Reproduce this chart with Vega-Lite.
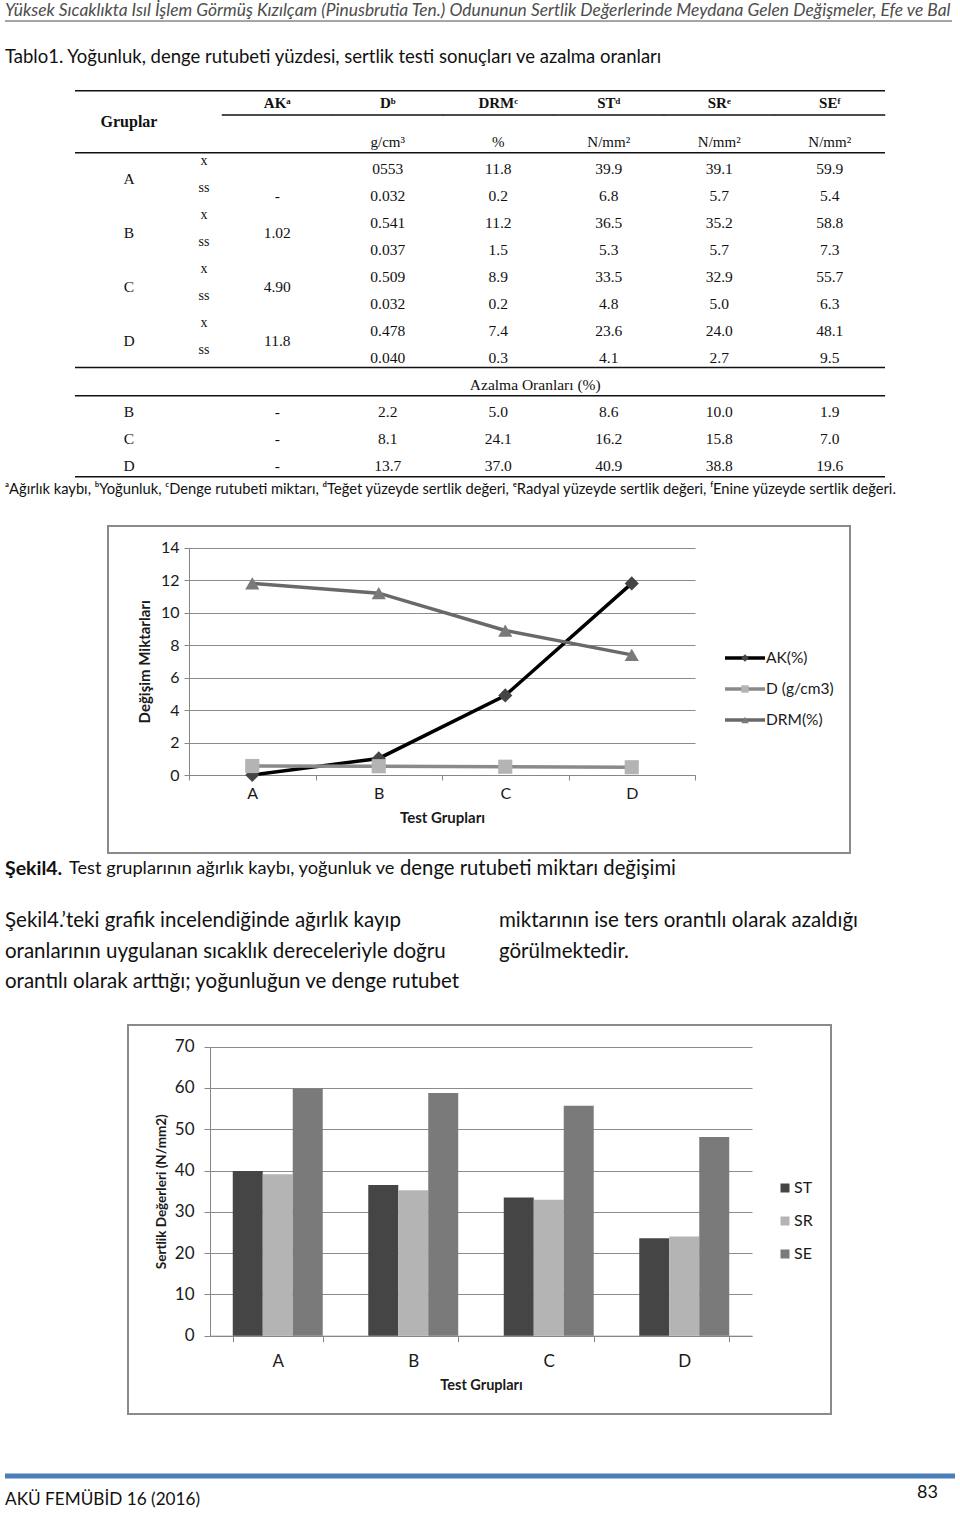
{
  "$schema": "https://vega.github.io/schema/vega-lite/v6.json",
  "padding": 0,
  "background": "white",
  "spacing": 0,
  "bounds": "flush",
  "config": {
    "view": {"stroke": null},
    "font": "Lato",
    "text": {"font": "Lato", "baseline": "middle", "color": "#111111"},
    "axis": {
      "labelFont": "Lato", "titleFont": "Lato",
      "labelColor": "#1a1a1a", "titleColor": "#1a1a1a",
      "domainColor": "#868686", "tickColor": "#868686", "gridColor": "#8c8c8c",
      "gridOpacity": 1, "domainWidth": 1, "tickWidth": 1, "gridWidth": 1,
      "labelOverlap": false
    }
  },
  "vconcat": [
    {
      "width": 960, "height": 75,
      "layer": [
        {
          "data": {"values": [{"line": "header", "t": "Yüksek Sıcaklıkta Isıl İşlem Görmüş Kızılçam (Pinusbrutia Ten.) Odununun Sertlik Değerlerinde Meydana Gelen Değişmeler, Efe ve Bal"}]},
          "mark": {"type": "text", "align": "left", "baseline": "alphabetic", "dy": -5, "font": "Lato", "fontStyle": "italic", "fontSize": 17.4, "color": "#4d4d4d"},
          "encoding": {
            "x": {"datum": "left", "type": "nominal", "scale": {"type": "point", "domain": ["left", "right"], "range": [5, 952], "padding": 0}, "axis": null},
            "y": {"field": "line", "type": "nominal", "scale": {"type": "point", "domain": ["header", "tablo"], "range": [21, 68], "padding": 0}, "axis": null},
            "text": {"field": "t"}
          }
        },
        {
          "data": {"values": [{"line": "tablo", "t": "Tablo1. Yoğunluk, denge rutubeti yüzdesi, sertlik testi sonuçları ve azalma oranları"}]},
          "mark": {"type": "text", "align": "left", "baseline": "alphabetic", "dy": -5, "font": "Lato", "fontSize": 18.5, "color": "#111111"},
          "encoding": {
            "x": {"datum": "left", "type": "nominal", "scale": {"type": "point", "domain": ["left", "right"], "range": [5, 952], "padding": 0}, "axis": null},
            "y": {"field": "line", "type": "nominal", "scale": {"type": "point", "domain": ["header", "tablo"], "range": [21, 68], "padding": 0}, "axis": null},
            "text": {"field": "t"}
          }
        },
        {
          "data": {"values": [{"line": "header"}]},
          "mark": {"type": "rule", "color": "#4d4d4d", "strokeWidth": 1},
          "encoding": {
            "x": {"datum": "left", "type": "nominal", "scale": {"type": "point", "domain": ["left", "right"], "range": [5, 952], "padding": 0}, "axis": null},
            "x2": {"datum": "right"},
            "y": {"field": "line", "type": "nominal", "scale": {"type": "point", "domain": ["header", "tablo"], "range": [21, 68], "padding": 0}, "axis": null}
          }
        }
      ]
    },
    {
      "width": 960, "height": 405,
      "resolve": {"scale": {"x": "independent"}},
      "layer": [
        {
          "encoding": {
            "x": {"field": "col", "type": "nominal", "scale": {"type": "point", "domain": ["grp", "xs"], "range": [129, 204], "padding": 0}, "axis": null},
            "y": {"field": "row", "type": "quantitative", "scale": {"domain": [0, 12], "range": [67, 391], "nice": false, "zero": false}, "axis": null},
            "text": {"field": "t", "type": "nominal"}
          },
          "layer": [
            {
              "data": {"values": [{"col": "grp", "row": -1, "t": "Gruplar"}]},
              "mark": {"type": "text", "font": "Liberation Serif", "fontSize": 16, "fontWeight": "bold", "dy": 7, "color": "#111111"}
            },
            {
              "data": {"values": [{"col": "grp", "row": 1, "t": "A"}, {"col": "grp", "row": 3, "t": "B"}, {"col": "grp", "row": 5, "t": "C"}, {"col": "grp", "row": 7, "t": "D"}]},
              "mark": {"type": "text", "font": "Liberation Serif", "fontSize": 15.5, "dy": 10, "color": "#111111"}
            },
            {
              "data": {"values": [{"col": "grp", "row": 10, "t": "B"}, {"col": "grp", "row": 11, "t": "C"}, {"col": "grp", "row": 12, "t": "D"}]},
              "mark": {"type": "text", "font": "Liberation Serif", "fontSize": 15.5, "color": "#111111"}
            },
            {
              "data": {"values": [
                {"col": "xs", "row": 1, "t": "x"}, {"col": "xs", "row": 2, "t": "ss"},
                {"col": "xs", "row": 3, "t": "x"}, {"col": "xs", "row": 4, "t": "ss"},
                {"col": "xs", "row": 5, "t": "x"}, {"col": "xs", "row": 6, "t": "ss"},
                {"col": "xs", "row": 7, "t": "x"}, {"col": "xs", "row": 8, "t": "ss"}
              ]},
              "mark": {"type": "text", "font": "Liberation Serif", "fontSize": 14, "dy": -8, "color": "#111111"}
            }
          ]
        },
        {
          "encoding": {
            "x": {"field": "col", "type": "nominal", "scale": {"type": "band", "domain": ["AK", "D", "DRM", "ST", "SR", "SE"], "range": [222, 885], "paddingInner": 0, "paddingOuter": 0}, "axis": null},
            "y": {"field": "row", "type": "quantitative", "scale": {"domain": [0, 12], "range": [67, 391], "nice": false, "zero": false}, "axis": null}
          },
          "layer": [
            {
              "data": {"values": [
                {"col": "AK", "row": -1, "t": "AKᵃ"}, {"col": "D", "row": -1, "t": "Dᵇ"},
                {"col": "DRM", "row": -1, "t": "DRMᶜ"}, {"col": "ST", "row": -1, "t": "STᵈ"},
                {"col": "SR", "row": -1, "t": "SRᵉ"}, {"col": "SE", "row": -1, "t": "SEᶠ"}
              ]},
              "mark": {"type": "text", "font": "Liberation Serif", "fontSize": 15, "fontWeight": "bold", "dy": -12, "color": "#111111"},
              "encoding": {"text": {"field": "t", "type": "nominal"}}
            },
            {
              "data": {"values": [
                {"col": "AK", "row": -1}, {"col": "D", "row": -1}, {"col": "DRM", "row": -1},
                {"col": "ST", "row": -1}, {"col": "SR", "row": -1}, {"col": "SE", "row": -1}
              ]},
              "mark": {"type": "tick", "orient": "horizontal", "size": 111, "thickness": 1.5, "color": "#111111", "opacity": 1}
            },
            {
              "data": {"values": [
                {"col": "D", "row": 0, "t": "g/cm³"}, {"col": "DRM", "row": 0, "t": "%"},
                {"col": "ST", "row": 0, "t": "N/mm²"}, {"col": "SR", "row": 0, "t": "N/mm²"}, {"col": "SE", "row": 0, "t": "N/mm²"}
              ]},
              "mark": {"type": "text", "font": "Liberation Serif", "fontSize": 15, "color": "#111111"},
              "encoding": {"text": {"field": "t", "type": "nominal"}}
            },
            {
              "data": {"values": [
                {"col": "D", "row": 1, "t": "0553"}, {"col": "DRM", "row": 1, "t": "11.8"}, {"col": "ST", "row": 1, "t": "39.9"}, {"col": "SR", "row": 1, "t": "39.1"}, {"col": "SE", "row": 1, "t": "59.9"},
                {"col": "AK", "row": 2, "t": "-"},
                {"col": "D", "row": 2, "t": "0.032"}, {"col": "DRM", "row": 2, "t": "0.2"}, {"col": "ST", "row": 2, "t": "6.8"}, {"col": "SR", "row": 2, "t": "5.7"}, {"col": "SE", "row": 2, "t": "5.4"},
                {"col": "D", "row": 3, "t": "0.541"}, {"col": "DRM", "row": 3, "t": "11.2"}, {"col": "ST", "row": 3, "t": "36.5"}, {"col": "SR", "row": 3, "t": "35.2"}, {"col": "SE", "row": 3, "t": "58.8"},
                {"col": "D", "row": 4, "t": "0.037"}, {"col": "DRM", "row": 4, "t": "1.5"}, {"col": "ST", "row": 4, "t": "5.3"}, {"col": "SR", "row": 4, "t": "5.7"}, {"col": "SE", "row": 4, "t": "7.3"},
                {"col": "D", "row": 5, "t": "0.509"}, {"col": "DRM", "row": 5, "t": "8.9"}, {"col": "ST", "row": 5, "t": "33.5"}, {"col": "SR", "row": 5, "t": "32.9"}, {"col": "SE", "row": 5, "t": "55.7"},
                {"col": "D", "row": 6, "t": "0.032"}, {"col": "DRM", "row": 6, "t": "0.2"}, {"col": "ST", "row": 6, "t": "4.8"}, {"col": "SR", "row": 6, "t": "5.0"}, {"col": "SE", "row": 6, "t": "6.3"},
                {"col": "D", "row": 7, "t": "0.478"}, {"col": "DRM", "row": 7, "t": "7.4"}, {"col": "ST", "row": 7, "t": "23.6"}, {"col": "SR", "row": 7, "t": "24.0"}, {"col": "SE", "row": 7, "t": "48.1"},
                {"col": "D", "row": 8, "t": "0.040"}, {"col": "DRM", "row": 8, "t": "0.3"}, {"col": "ST", "row": 8, "t": "4.1"}, {"col": "SR", "row": 8, "t": "2.7"}, {"col": "SE", "row": 8, "t": "9.5"},
                {"col": "AK", "row": 10, "t": "-"}, {"col": "D", "row": 10, "t": "2.2"}, {"col": "DRM", "row": 10, "t": "5.0"}, {"col": "ST", "row": 10, "t": "8.6"}, {"col": "SR", "row": 10, "t": "10.0"}, {"col": "SE", "row": 10, "t": "1.9"},
                {"col": "AK", "row": 11, "t": "-"}, {"col": "D", "row": 11, "t": "8.1"}, {"col": "DRM", "row": 11, "t": "24.1"}, {"col": "ST", "row": 11, "t": "16.2"}, {"col": "SR", "row": 11, "t": "15.8"}, {"col": "SE", "row": 11, "t": "7.0"},
                {"col": "AK", "row": 12, "t": "-"}, {"col": "D", "row": 12, "t": "13.7"}, {"col": "DRM", "row": 12, "t": "37.0"}, {"col": "ST", "row": 12, "t": "40.9"}, {"col": "SR", "row": 12, "t": "38.8"}, {"col": "SE", "row": 12, "t": "19.6"}
              ]},
              "mark": {"type": "text", "font": "Liberation Serif", "fontSize": 15.5, "color": "#111111"},
              "encoding": {"text": {"field": "t", "type": "nominal"}}
            },
            {
              "data": {"values": [{"col": "AK", "row": 3, "t": "1.02"}, {"col": "AK", "row": 5, "t": "4.90"}, {"col": "AK", "row": 7, "t": "11.8"}]},
              "mark": {"type": "text", "font": "Liberation Serif", "fontSize": 15.5, "dy": 10, "color": "#111111"},
              "encoding": {"text": {"field": "t", "type": "nominal"}}
            },
            {
              "data": {"values": [{"col": "DRM", "row": 9, "t": "Azalma Oranları (%)"}]},
              "mark": {"type": "text", "font": "Liberation Serif", "fontSize": 15.5, "dx": 37, "color": "#111111"},
              "encoding": {"text": {"field": "t", "type": "nominal"}}
            }
          ]
        },
        {
          "data": {"values": [{"row": -1.9}, {"row": 0.4}, {"row": 8.35}, {"row": 9.4}, {"row": 12.4}]},
          "mark": {"type": "rule", "color": "#111111", "strokeWidth": 1.5},
          "encoding": {
            "x": {"datum": "start", "type": "nominal", "scale": {"type": "point", "domain": ["start", "end"], "range": [75, 885], "padding": 0}, "axis": null},
            "x2": {"datum": "end"},
            "y": {"field": "row", "type": "quantitative", "scale": {"domain": [0, 12], "range": [67, 391], "nice": false, "zero": false}, "axis": null}
          }
        }
      ]
    },
    {
      "width": 960, "height": 20,
      "data": {"values": [{"t": "ᵃAğırlık kaybı, ᵇYoğunluk, ᶜDenge rutubeti miktarı, ᵈTeğet yüzeyde sertlik değeri, ᵉRadyal yüzeyde sertlik değeri, ᶠEnine yüzeyde sertlik değeri."}]},
      "mark": {"type": "text", "align": "left", "font": "Lato", "fontSize": 14.7, "color": "#111111"},
      "encoding": {
        "x": {"datum": "left", "type": "nominal", "scale": {"type": "point", "domain": ["left", "right"], "range": [5, 955], "padding": 0}, "axis": null},
        "text": {"field": "t"}
      }
    },
    {"width": 960, "height": 26, "data": {"values": [{}]}, "mark": {"type": "text", "text": ""}},
    {
      "width": 960, "height": 327,
      "resolve": {"scale": {"x": "independent", "y": "independent"}},
      "layer": [
        {
          "data": {"values": [{}]},
          "mark": {"type": "rect", "fillOpacity": 0, "stroke": "#8a8a8a", "strokeWidth": 2},
          "encoding": {
            "x": {"datum": "start", "type": "nominal", "scale": {"type": "point", "domain": ["start", "end"], "range": [108, 850], "padding": 0}, "axis": null},
            "x2": {"datum": "end"}
          }
        },
        {
          "data": {"values": [
            {"group": "A", "series": "AK(%)", "value": 0}, {"group": "B", "series": "AK(%)", "value": 1.02},
            {"group": "C", "series": "AK(%)", "value": 4.90}, {"group": "D", "series": "AK(%)", "value": 11.8},
            {"group": "A", "series": "D (g/cm3)", "value": 0.553}, {"group": "B", "series": "D (g/cm3)", "value": 0.541},
            {"group": "C", "series": "D (g/cm3)", "value": 0.509}, {"group": "D", "series": "D (g/cm3)", "value": 0.478},
            {"group": "A", "series": "DRM(%)", "value": 11.8}, {"group": "B", "series": "DRM(%)", "value": 11.2},
            {"group": "C", "series": "DRM(%)", "value": 8.9}, {"group": "D", "series": "DRM(%)", "value": 7.4}
          ]},
          "encoding": {
            "x": {"field": "group", "type": "nominal", "scale": {"type": "band", "domain": ["A", "B", "C", "D"], "range": [189, 695], "paddingInner": 0, "paddingOuter": 0},
              "axis": {"title": "Test Grupları", "orient": "bottom", "offset": -78, "labelAngle": 0, "tickBand": "extent", "grid": false, "tickSize": 5, "labelPadding": 5, "labelFontSize": 16, "titleFontSize": 15, "titleFontWeight": "bold", "titlePadding": 9}},
            "y": {"field": "value", "type": "quantitative", "scale": {"domain": [0, 14], "range": [249, 21.7], "nice": false, "zero": false},
              "axis": {"title": "Değişim Miktarları", "orient": "left", "offset": -189, "values": [0, 2, 4, 6, 8, 10, 12, 14], "grid": true, "tickSize": 5, "labelPadding": 5, "labelFontSize": 16, "titleFontSize": 15, "titleFontWeight": "bold", "titlePadding": 8}}
          },
          "layer": [
            {
              "mark": {"type": "line", "strokeWidth": 3.5},
              "encoding": {
                "stroke": {"field": "series", "type": "nominal", "scale": {"domain": ["AK(%)", "D (g/cm3)", "DRM(%)"], "range": ["#000000", "#8a8a8a", "#696969"]}, "legend": null}
              }
            },
            {
              "mark": {"type": "point", "filled": true, "size": 200, "opacity": 1},
              "encoding": {
                "shape": {"field": "series", "type": "nominal", "scale": {"domain": ["AK(%)", "D (g/cm3)", "DRM(%)"], "range": ["diamond", "square", "triangle-up"]}, "legend": null},
                "fill": {"field": "series", "type": "nominal", "scale": {"domain": ["AK(%)", "D (g/cm3)", "DRM(%)"], "range": ["#454545", "#b4b4b4", "#7a7a7a"]}, "legend": null}
              }
            }
          ]
        },
        {
          "data": {"values": [{"series": "AK(%)"}, {"series": "D (g/cm3)"}, {"series": "DRM(%)"}]},
          "encoding": {
            "y": {"field": "series", "type": "nominal", "scale": {"type": "point", "domain": ["AK(%)", "D (g/cm3)", "DRM(%)"], "range": [132, 194], "padding": 0}, "axis": null}
          },
          "layer": [
            {
              "mark": {"type": "rule", "strokeWidth": 3.5},
              "encoding": {
                "x": {"datum": 0, "type": "quantitative", "scale": {"domain": [0, 1], "range": [725, 765], "nice": false, "zero": false}, "axis": null},
                "x2": {"datum": 1},
                "stroke": {"field": "series", "type": "nominal", "scale": {"domain": ["AK(%)", "D (g/cm3)", "DRM(%)"], "range": ["#000000", "#8a8a8a", "#696969"]}, "legend": null}
              }
            },
            {
              "mark": {"type": "point", "filled": true, "size": 55, "opacity": 1},
              "encoding": {
                "x": {"datum": 0.5, "type": "quantitative", "scale": {"domain": [0, 1], "range": [725, 765], "nice": false, "zero": false}, "axis": null},
                "shape": {"field": "series", "type": "nominal", "scale": {"domain": ["AK(%)", "D (g/cm3)", "DRM(%)"], "range": ["diamond", "square", "triangle-up"]}, "legend": null},
                "fill": {"field": "series", "type": "nominal", "scale": {"domain": ["AK(%)", "D (g/cm3)", "DRM(%)"], "range": ["#454545", "#b4b4b4", "#7a7a7a"]}, "legend": null}
              }
            },
            {
              "mark": {"type": "text", "align": "left", "dx": 1, "fontSize": 15.5, "color": "#1a1a1a"},
              "encoding": {
                "x": {"datum": 1, "type": "quantitative", "scale": {"domain": [0, 1], "range": [725, 765], "nice": false, "zero": false}, "axis": null},
                "text": {"field": "series", "type": "nominal"}
              }
            }
          ]
        }
      ]
    },
    {
      "width": 960, "height": 32,
      "layer": [
        {
          "data": {"values": [{"t": "Şekil4."}]},
          "mark": {"type": "text", "align": "left", "fontSize": 19.5, "fontWeight": "bold", "color": "#111111"},
          "encoding": {
            "x": {"datum": "left", "type": "nominal", "scale": {"type": "point", "domain": ["left", "right"], "range": [5, 955], "padding": 0}, "axis": null},
            "text": {"field": "t"}
          }
        },
        {
          "data": {"values": [{"t": "Test gruplarının ağırlık kaybı, yoğunluk ve"}]},
          "mark": {"type": "text", "align": "left", "fontSize": 18.2, "dx": 64, "color": "#111111"},
          "encoding": {
            "x": {"datum": "left", "type": "nominal", "scale": {"type": "point", "domain": ["left", "right"], "range": [5, 955], "padding": 0}, "axis": null},
            "text": {"field": "t"}
          }
        },
        {
          "data": {"values": [{"t": "denge rutubeti miktarı değişimi"}]},
          "mark": {"type": "text", "align": "left", "fontSize": 20.3, "dx": 395, "color": "#111111"},
          "encoding": {
            "x": {"datum": "left", "type": "nominal", "scale": {"type": "point", "domain": ["left", "right"], "range": [5, 955], "padding": 0}, "axis": null},
            "text": {"field": "t"}
          }
        }
      ]
    },
    {
      "width": 960, "height": 140,
      "data": {"values": [
        {"col": "left", "line": 1, "t": "Şekil4.’teki grafik incelendiğinde ağırlık kayıp"},
        {"col": "left", "line": 2, "t": "oranlarının uygulanan sıcaklık dereceleriyle doğru"},
        {"col": "left", "line": 3, "t": "orantılı olarak arttığı; yoğunluğun ve denge rutubet"},
        {"col": "right", "line": 1, "t": "miktarının ise ters orantılı olarak azaldığı"},
        {"col": "right", "line": 2, "t": "görülmektedir."}
      ]},
      "mark": {"type": "text", "align": "left", "fontSize": 20.5, "color": "#111111"},
      "encoding": {
        "x": {"field": "col", "type": "nominal", "scale": {"type": "point", "domain": ["left", "right"], "range": [5, 499], "padding": 0}, "axis": null},
        "y": {"field": "line", "type": "ordinal", "scale": {"type": "point", "domain": [1, 2, 3], "range": [36, 97], "padding": 0}, "axis": null},
        "text": {"field": "t"}
      }
    },
    {
      "width": 960, "height": 389,
      "resolve": {"scale": {"x": "independent", "y": "independent"}},
      "layer": [
        {
          "data": {"values": [{}]},
          "mark": {"type": "rect", "fillOpacity": 0, "stroke": "#8a8a8a", "strokeWidth": 2},
          "encoding": {
            "x": {"datum": "start", "type": "nominal", "scale": {"type": "point", "domain": ["start", "end"], "range": [128, 831], "padding": 0}, "axis": null},
            "x2": {"datum": "end"}
          }
        },
        {
          "data": {"values": [
            {"group": "A", "measure": "ST", "value": 39.9}, {"group": "A", "measure": "SR", "value": 39.1}, {"group": "A", "measure": "SE", "value": 59.9},
            {"group": "B", "measure": "ST", "value": 36.5}, {"group": "B", "measure": "SR", "value": 35.2}, {"group": "B", "measure": "SE", "value": 58.8},
            {"group": "C", "measure": "ST", "value": 33.5}, {"group": "C", "measure": "SR", "value": 32.9}, {"group": "C", "measure": "SE", "value": 55.7},
            {"group": "D", "measure": "ST", "value": 23.6}, {"group": "D", "measure": "SR", "value": 24.0}, {"group": "D", "measure": "SE", "value": 48.1}
          ]},
          "mark": {"type": "bar", "opacity": 1},
          "encoding": {
            "x": {"field": "group", "type": "nominal", "scale": {"type": "band", "domain": ["A", "B", "C", "D"], "range": [210, 752], "paddingInner": 0.336, "paddingOuter": 0.168},
              "axis": {"title": "Test Grupları", "orient": "bottom", "offset": -78.3, "labelAngle": 0, "tickBand": "extent", "grid": false, "tickSize": 6, "labelPadding": 12, "labelFontSize": 17, "titleFontSize": 14.5, "titleFontWeight": "bold", "titlePadding": 9}},
            "xOffset": {"field": "measure", "type": "nominal", "scale": {"domain": ["ST", "SR", "SE"], "paddingInner": 0, "paddingOuter": 0}},
            "y": {"field": "value", "type": "quantitative", "scale": {"domain": [0, 70], "range": [310.7, 21.7], "nice": false, "zero": false},
              "axis": {"title": "Sertlik Değerleri (N/mm2)", "orient": "left", "offset": -210, "values": [0, 10, 20, 30, 40, 50, 60, 70], "grid": true, "tickSize": 6, "labelPadding": 10, "labelFontSize": 17, "titleFontSize": 13.5, "titleFontWeight": "bold", "titlePadding": 6}},
            "fill": {"field": "measure", "type": "nominal", "scale": {"domain": ["ST", "SR", "SE"], "range": ["#262626", "#b3b3b3", "#5a5a5a"]}, "legend": null}
          }
        },
        {
          "data": {"values": [{"measure": "ST"}, {"measure": "SR"}, {"measure": "SE"}]},
          "encoding": {
            "y": {"field": "measure", "type": "nominal", "scale": {"type": "point", "domain": ["ST", "SR", "SE"], "range": [163, 229], "padding": 0}, "axis": null}
          },
          "layer": [
            {
              "mark": {"type": "point", "shape": "square", "filled": true, "size": 81, "opacity": 1},
              "encoding": {
                "x": {"datum": 0, "type": "quantitative", "scale": {"domain": [0, 1], "range": [785, 794], "nice": false, "zero": false}, "axis": null},
                "fill": {"field": "measure", "type": "nominal", "scale": {"domain": ["ST", "SR", "SE"], "range": ["#262626", "#b3b3b3", "#5a5a5a"]}, "legend": null}
              }
            },
            {
              "mark": {"type": "text", "align": "left", "fontSize": 16, "color": "#1a1a1a"},
              "encoding": {
                "x": {"datum": 1, "type": "quantitative", "scale": {"domain": [0, 1], "range": [785, 794], "nice": false, "zero": false}, "axis": null},
                "text": {"field": "measure", "type": "nominal"}
              }
            }
          ]
        }
      ]
    },
    {
      "width": 960, "height": 99,
      "layer": [
        {
          "data": {"values": [{"line": "rule"}]},
          "mark": {"type": "rule", "color": "#4a7ebb", "strokeWidth": 5},
          "encoding": {
            "x": {"datum": "left", "type": "nominal", "scale": {"type": "point", "domain": ["left", "right"], "range": [5, 955], "padding": 0}, "axis": null},
            "x2": {"datum": "right"},
            "y": {"field": "line", "type": "nominal", "scale": {"type": "point", "domain": ["rule", "text"], "range": [62, 86], "padding": 0}, "axis": null}
          }
        },
        {
          "data": {"values": [{"line": "text", "t": "AKÜ FEMÜBİD 16 (2016)"}]},
          "mark": {"type": "text", "align": "left", "fontSize": 17.2, "color": "#111111"},
          "encoding": {
            "x": {"datum": "left", "type": "nominal", "scale": {"type": "point", "domain": ["left", "right"], "range": [5, 955], "padding": 0}, "axis": null},
            "y": {"field": "line", "type": "nominal", "scale": {"type": "point", "domain": ["rule", "text"], "range": [62, 86], "padding": 0}, "axis": null},
            "text": {"field": "t"}
          }
        },
        {
          "data": {"values": [{"line": "text", "t": "83"}]},
          "mark": {"type": "text", "align": "right", "fontSize": 18, "dx": -17, "dy": -7, "color": "#111111"},
          "encoding": {
            "x": {"datum": "right", "type": "nominal", "scale": {"type": "point", "domain": ["left", "right"], "range": [5, 955], "padding": 0}, "axis": null},
            "y": {"field": "line", "type": "nominal", "scale": {"type": "point", "domain": ["rule", "text"], "range": [62, 86], "padding": 0}, "axis": null},
            "text": {"field": "t"}
          }
        }
      ]
    }
  ]
}
